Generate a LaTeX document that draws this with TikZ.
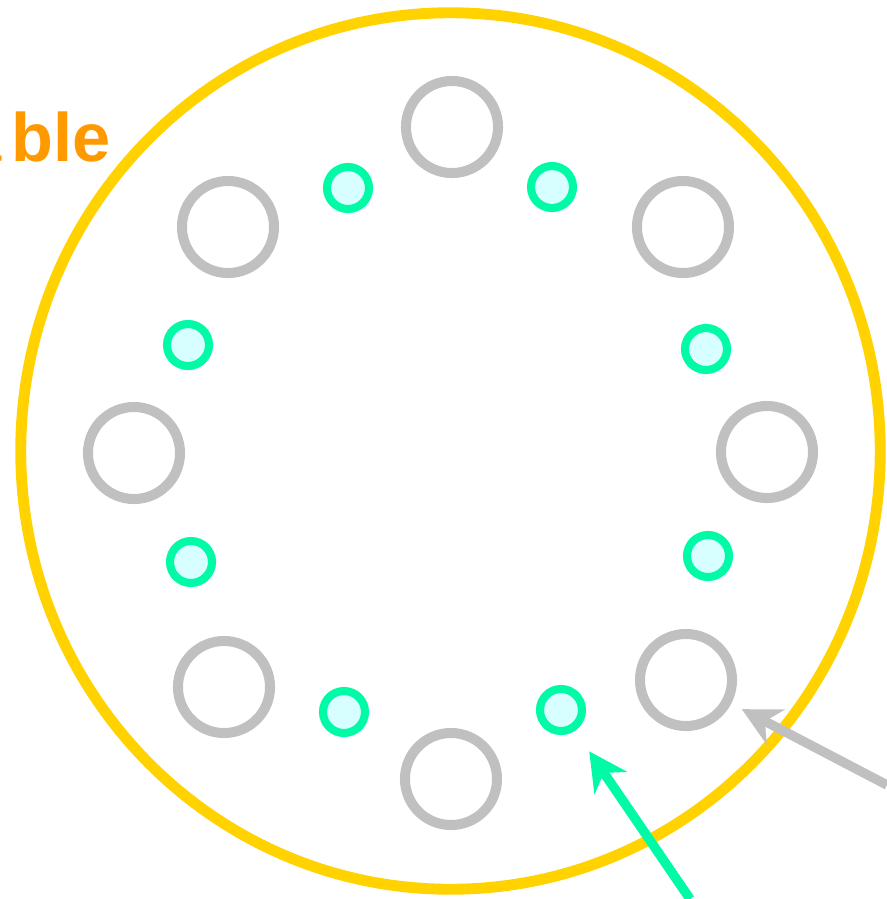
\documentclass[tikz,border=0pt]{standalone}
\usepackage{fontspec}
\setmainfont{Liberation Sans}
\usepackage{xcolor}
\usepackage{tikz}
\usetikzlibrary{arrows.meta,positioning,shapes.geometric}
\definecolor{tyellow}{HTML}{FFD200}
\definecolor{torange}{HTML}{FF9900}
\definecolor{tgray}{HTML}{C0C0C0}
\definecolor{tmint}{HTML}{00FAA6}
\definecolor{tice}{HTML}{D8FFFF}
\tikzset{
  tplate/.style={ellipse, draw=tyellow, line width=3.1pt, minimum width=8.59cm,
                 minimum height=8.76cm, inner sep=0pt},
  tring/.style={circle, draw=tgray, line width=2.85pt, minimum size=0.92cm, inner sep=0pt},
  tdot/.style={circle, draw=tmint, fill=tice, line width=2.3pt, minimum size=0.42cm, inner sep=0pt},
  tlbl/.style={torange, font=\fontsize{19.5}{24}\selectfont\bfseries, inner sep=0pt},
  tptr/.style={-{Stealth[length=0.38cm, width=0.39cm, inset=0.12cm]}, line width=2.7pt},
}
\begin{document}
\begin{tikzpicture}[x=0.01cm,y=-0.01cm]
  \useasboundingbox (0,0) rectangle (887,899);

  % plate
  \node[tplate] (plate) at (450.5,451) {};

  % rings
  \node[tring] (g1) at (452,127) {};
  \node[tring] (g2) at (683,227) {};
  \node[tring] (g3) at (767,452) {};
  \node[tring] (g4) at (686,680) {};
  \node[tring] (g5) at (451,779) {};
  \node[tring] (g6) at (224,687) {};
  \node[tring] (g7) at (134,453) {};
  \node[tring] (g8) at (228,227) {};

  % dots
  \node[tdot] (s1) at (552,187) {};
  \node[tdot] (s2) at (706,349) {};
  \node[tdot] (s3) at (708,556) {};
  \node[tdot] (s4) at (561,710) {};
  \node[tdot] (s5) at (344,712) {};
  \node[tdot] (s6) at (191,562) {};
  \node[tdot] (s7) at (188,345) {};
  \node[tdot] (s8) at (348,188) {};

  % label
  \node[tlbl, anchor=base west] (lbl) at (-37,161) {a\kern0.14em ble};

  % pointers
  \coordinate (gsrc) at (887,785);
  \coordinate (ssrc) at (690,899);
  \draw[tptr, tgray, shorten >=0.12cm] (gsrc) -- (g4);
  \draw[tptr, tmint, shorten >=0.25cm] (ssrc) -- (s4);

\end{tikzpicture}
\end{document}
